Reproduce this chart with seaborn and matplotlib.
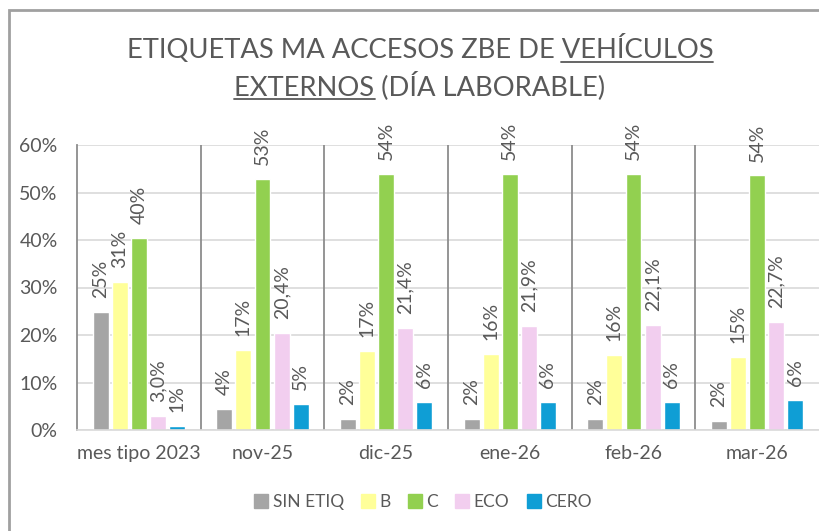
import matplotlib
matplotlib.use("Agg")
import matplotlib.pyplot as plt
import seaborn as sns
import pandas as pd
from matplotlib.patches import Rectangle
from matplotlib.lines import Line2D

categories = ["mes tipo 2023", "nov-25", "dic-25", "ene-26", "feb-26", "mar-26"]
series = ["SIN ETIQ", "B", "C", "ECO", "CERO"]
sin_etiq = [24.9, 4.4, 2.4, 2.3, 2.3, 2.0]
b_vals = [31.1, 16.9, 16.6, 16.1, 15.8, 15.4]
c_vals = [40.5, 52.9, 54.0, 54.0, 54.0, 53.6]
eco_vals = [3.0, 20.4, 21.4, 21.9, 22.1, 22.7]
cero_vals = [0.9, 5.4, 6.0, 6.0, 6.0, 6.4]
colors = ["#A5A5A5", "#FFFF99", "#92D050", "#F2CEEF", "#0F9ED5"]
label_fmt = ["{:.0f}%", "{:.0f}%", "{:.0f}%", "{:.1f}%", "{:.0f}%"]

values = [sin_etiq, b_vals, c_vals, eco_vals, cero_vals]
rows = []
for s, vals in zip(series, values):
    for c, v in zip(categories, vals):
        rows.append({"cat": c, "serie": s, "val": v / 100.0})
df = pd.DataFrame(rows)

sns.set_theme(style="white")
plt.rcParams["font.family"] = ["Lato", "DejaVu Sans"]
TXT = "#595959"

fig = plt.figure(figsize=(8.2, 5.31), dpi=100)
ax = fig.add_axes([77 / 820, 1 - 430 / 531, 742 / 820, 285 / 531])

sns.barplot(data=df, x="cat", y="val", hue="serie", order=categories,
            hue_order=series, palette=colors, width=0.77, gap=0.16,
            saturation=1, ax=ax, legend=False)

for cont, fmt in zip(ax.containers, label_fmt):
    labels = [fmt.format(b.get_height() * 100).replace(".", ",") for b in cont]
    ax.bar_label(cont, labels=labels, rotation=90, padding=10,
                 fontsize=14, color=TXT)

ax.set_ylim(0, 0.6)
ax.set_xlim(-0.5, len(categories) - 0.5)
ax.set_yticks([0, 0.1, 0.2, 0.3, 0.4, 0.5, 0.6])
ax.set_yticklabels(["0%", "10%", "20%", "30%", "40%", "50%", "60%"])
ax.yaxis.grid(True, color="#D9D9D9", lw=1.2)
ax.set_axisbelow(True)
ax.tick_params(axis="y", length=0, pad=14, labelsize=14, labelcolor=TXT)
ax.tick_params(axis="x", length=0, pad=11, labelsize=14, labelcolor=TXT)
ax.set_xlabel("")
ax.set_ylabel("")
for sp in ["top", "right"]:
    ax.spines[sp].set_visible(False)
ax.spines["left"].set_color("#8C8C8C")
ax.spines["left"].set_linewidth(1.3)
ax.spines["bottom"].set_color("#D9D9D9")
ax.spines["bottom"].set_linewidth(1.2)
ax.vlines([i + 0.5 for i in range(len(categories) - 1)], 0, 0.6,
          color="#8C8C8C", lw=1.3, zorder=1)

handles = [Rectangle((0, 0), 1, 1, color=c) for c in colors]
fig.legend(handles, series, loc="center", bbox_to_anchor=(423 / 820, 1 - 502 / 531),
           ncol=5, frameon=False, fontsize=12.5, labelcolor=TXT,
           handlelength=0.8, handleheight=0.8, handletextpad=0.25,
           columnspacing=1.0)

# Title with underlined words
fig.canvas.draw()
renderer = fig.canvas.get_renderer()
title_size = 19.7
lines = [("ETIQUETAS MA ACCESOS ZBE DE ", "VEHÍCULOS", "", 1 - 48 / 531),
         ("", "EXTERNOS", " (DÍA LABORABLE)", 1 - 86 / 531)]
for pre, und, post, y in lines:
    full = fig.text(420 / 820, y, pre + und + post, ha="center", va="center",
                    fontsize=title_size, color=TXT)
    bb = full.get_window_extent(renderer)
    def width(s):
        if not s:
            return 0.0
        t = fig.text(0, 0, s, fontsize=title_size)
        w = t.get_window_extent(renderer).width
        t.remove()
        return w
    x0 = bb.x0 + width(pre)
    x1 = x0 + width(und)
    yl = bb.y0 + 1
    fig.add_artist(Line2D([x0 / fig.bbox.width, x1 / fig.bbox.width],
                          [yl / fig.bbox.height, yl / fig.bbox.height],
                          color=TXT, lw=1.3, transform=fig.transFigure))

# chart area border
fig.add_artist(Rectangle((9 / 820, -0.1), 1.2, 1 - 10 / 531 + 0.1,
                         transform=fig.transFigure, fill=False,
                         edgecolor="#A0A0A0", lw=2))

fig.savefig("out.png", dpi=100)
